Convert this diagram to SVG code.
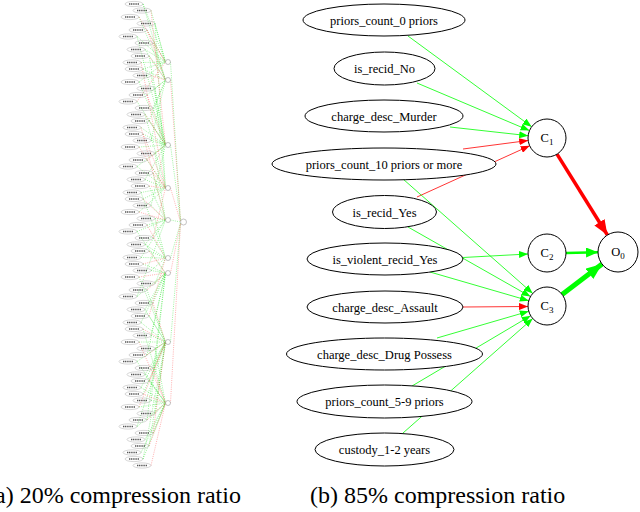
<svg xmlns="http://www.w3.org/2000/svg" width="640" height="512" viewBox="0 0 640 512">
<style>
.n{fill:none;stroke:#999;stroke-width:0.4}
.t{fill:none;stroke:#555;stroke-width:1.4;stroke-dasharray:1.2 0.6}
.h{fill:#fff;stroke:#888;stroke-width:0.5}
.lg{fill:none;stroke:#00e000;stroke-width:0.5;stroke-dasharray:1 1.2;opacity:0.75}
.lr{fill:none;stroke:#ff2020;stroke-width:0.5;stroke-dasharray:1 1.2;opacity:0.7}
.node ellipse,.node circle{fill:#fff;stroke:#000;stroke-width:1}
.eg{fill:none;stroke:#00ff00;stroke-width:0.8}
.er{fill:none;stroke:#ff0000;stroke-width:0.8}
text{font-family:Liberation Serif,Tinos,Times New Roman,DejaVu Serif,Noto Serif,serif}
</style>
<defs>
<marker id="ag" markerUnits="userSpaceOnUse" markerWidth="9" markerHeight="7" refX="9" refY="3.5" orient="auto" viewBox="0 0 9 7"><path d="M0,0 L9,3.5 L0,7 z" fill="#00ff00"/></marker>
<marker id="ar" markerUnits="userSpaceOnUse" markerWidth="9" markerHeight="7" refX="9" refY="3.5" orient="auto" viewBox="0 0 9 7"><path d="M0,0 L9,3.5 L0,7 z" fill="#ff0000"/></marker>
<marker id="agM" markerUnits="userSpaceOnUse" markerWidth="12" markerHeight="10" refX="12" refY="5" orient="auto" viewBox="0 0 12 10"><path d="M0,0 L12,5 L0,10 z" fill="#00ff00"/></marker>
<marker id="agL" markerUnits="userSpaceOnUse" markerWidth="16" markerHeight="13" refX="16" refY="6.5" orient="auto" viewBox="0 0 16 13"><path d="M0,0 L16,6.5 L0,13 z" fill="#00ff00"/></marker>
<marker id="arL" markerUnits="userSpaceOnUse" markerWidth="15" markerHeight="12" refX="15" refY="6" orient="auto" viewBox="0 0 15 12"><path d="M0,0 L15,6 L0,12 z" fill="#ff0000"/></marker>
</defs>
<rect width="640" height="512" fill="#fff"/>

<!-- (a) left panel: connectors -->
<g id="edges-a">
<path class="lg" d="M143 4L165.5 62M143 4L165.5 80M151 10.5L165.5 62M139 17L165.5 80M155 23.5L165.5 62M155 23.5L165.5 188M147 30L165.5 62M137 36.5L165.5 62M137 36.5L165.5 145M153 43L165.5 80M145 49.5L165.5 62M145 49.5L165.5 80M149 56L165.5 145M141 62.5L165.5 62M143 69L165.5 80M143 69L165.5 62M151 75.5L165.5 145M139 82L165.5 62M139 82L165.5 145M155 88.5L165.5 80M155 88.5L165.5 188M147 95L165.5 80M137 101.5L165.5 145M153 108L165.5 80M153 108L165.5 145M145 114.5L165.5 188M149 121L165.5 145M149 121L165.5 80M141 127.5L165.5 145M143 134L165.5 145M151 140.5L165.5 145M151 140.5L165.5 80M139 147L165.5 145M155 153.5L165.5 145M155 153.5L165.5 220M147 160L165.5 188M137 166.5L165.5 145M137 166.5L165.5 188M153 173L165.5 220M145 179.5L165.5 188M145 179.5L165.5 145M149 186L165.5 220M141 192.5L165.5 188M141 192.5L165.5 258M143 199L165.5 188M151 205.5L165.5 220M151 205.5L165.5 145M139 212L165.5 188M155 218.5L165.5 220M155 218.5L165.5 258M147 225L165.5 220M137 231.5L165.5 220M137 231.5L165.5 273M153 238L165.5 258M145 244.5L165.5 220M145 244.5L165.5 258M149 251L165.5 258M141 257.5L165.5 258M141 257.5L165.5 220M143 264L165.5 273M151 270.5L165.5 258M151 270.5L165.5 273M139 277L165.5 342M155 283.5L165.5 273M155 283.5L165.5 258M147 290L165.5 342M137 296.5L165.5 273M137 296.5L165.5 220M153 303L165.5 273M145 309.5L165.5 273M145 309.5L165.5 342M149 316L165.5 342M141 322.5L165.5 342M141 322.5L165.5 273M143 329L165.5 403M151 335.5L165.5 342M151 335.5L165.5 273M139 342L165.5 342M155 348.5L165.5 403M155 348.5L165.5 342M147 355L165.5 273M137 361.5L165.5 342M137 361.5L165.5 403M153 368L165.5 342M145 374.5L165.5 342M145 374.5L165.5 403M149 381L165.5 403M141 387.5L165.5 403M141 387.5L165.5 342M143 394L165.5 342M151 400.5L165.5 403M151 400.5L165.5 273M139 407L165.5 403M155 413.5L165.5 403M155 413.5L165.5 342M147 420L165.5 273M137 426.5L165.5 403M137 426.5L165.5 342M153 433L165.5 403M145 439.5L165.5 403M149 446L165.5 342M141 452.5L165.5 403M143 459L165.5 403M143 459L165.5 342M170.5 62L180.5 221M170.5 145L180.5 221M170.5 220L180.5 222M170.5 258L180.5 223M170.5 342L180.5 223"/>
<path class="lr" d="M151 10.5L165.5 145M139 17L165.5 62M147 30L165.5 80M153 43L165.5 62M149 56L165.5 80M141 62.5L165.5 188M151 75.5L165.5 80M147 95L165.5 145M137 101.5L165.5 62M145 114.5L165.5 145M141 127.5L165.5 220M143 134L165.5 188M139 147L165.5 188M147 160L165.5 145M153 173L165.5 188M149 186L165.5 188M143 199L165.5 220M139 212L165.5 220M147 225L165.5 258M153 238L165.5 188M149 251L165.5 273M143 264L165.5 258M139 277L165.5 273M147 290L165.5 273M153 303L165.5 342M149 316L165.5 258M143 329L165.5 342M139 342L165.5 403M147 355L165.5 342M153 368L165.5 403M149 381L165.5 342M143 394L165.5 403M139 407L165.5 342M147 420L165.5 403M153 433L165.5 342M149 446L165.5 403M151 465.5L165.5 403M170.5 80L180.5 221M170.5 188L180.5 222M170.5 273L180.5 223M170.5 403L180.5 224"/>
</g>

<!-- (a) left panel: input nodes -->
<g id="a0"><ellipse class="n" cx="134" cy="4" rx="9" ry="2.6"/><path class="t" d="M129 4h10"/></g>
<g id="a1"><ellipse class="n" cx="142" cy="10.5" rx="9" ry="2.6"/><path class="t" d="M137 10.5h10"/></g>
<g id="a2"><ellipse class="n" cx="130" cy="17" rx="9" ry="2.6"/><path class="t" d="M125 17h10"/></g>
<g id="a3"><ellipse class="n" cx="146" cy="23.5" rx="9" ry="2.6"/><path class="t" d="M141 23.5h10"/></g>
<g id="a4"><ellipse class="n" cx="138" cy="30" rx="9" ry="2.6"/><path class="t" d="M133 30h10"/></g>
<g id="a5"><ellipse class="n" cx="128" cy="36.5" rx="9" ry="2.6"/><path class="t" d="M123 36.5h10"/></g>
<g id="a6"><ellipse class="n" cx="144" cy="43" rx="9" ry="2.6"/><path class="t" d="M139 43h10"/></g>
<g id="a7"><ellipse class="n" cx="136" cy="49.5" rx="9" ry="2.6"/><path class="t" d="M131 49.5h10"/></g>
<g id="a8"><ellipse class="n" cx="140" cy="56" rx="9" ry="2.6"/><path class="t" d="M135 56h10"/></g>
<g id="a9"><ellipse class="n" cx="132" cy="62.5" rx="9" ry="2.6"/><path class="t" d="M127 62.5h10"/></g>
<g id="a10"><ellipse class="n" cx="134" cy="69" rx="9" ry="2.6"/><path class="t" d="M129 69h10"/></g>
<g id="a11"><ellipse class="n" cx="142" cy="75.5" rx="9" ry="2.6"/><path class="t" d="M137 75.5h10"/></g>
<g id="a12"><ellipse class="n" cx="130" cy="82" rx="9" ry="2.6"/><path class="t" d="M125 82h10"/></g>
<g id="a13"><ellipse class="n" cx="146" cy="88.5" rx="9" ry="2.6"/><path class="t" d="M141 88.5h10"/></g>
<g id="a14"><ellipse class="n" cx="138" cy="95" rx="9" ry="2.6"/><path class="t" d="M133 95h10"/></g>
<g id="a15"><ellipse class="n" cx="128" cy="101.5" rx="9" ry="2.6"/><path class="t" d="M123 101.5h10"/></g>
<g id="a16"><ellipse class="n" cx="144" cy="108" rx="9" ry="2.6"/><path class="t" d="M139 108h10"/></g>
<g id="a17"><ellipse class="n" cx="136" cy="114.5" rx="9" ry="2.6"/><path class="t" d="M131 114.5h10"/></g>
<g id="a18"><ellipse class="n" cx="140" cy="121" rx="9" ry="2.6"/><path class="t" d="M135 121h10"/></g>
<g id="a19"><ellipse class="n" cx="132" cy="127.5" rx="9" ry="2.6"/><path class="t" d="M127 127.5h10"/></g>
<g id="a20"><ellipse class="n" cx="134" cy="134" rx="9" ry="2.6"/><path class="t" d="M129 134h10"/></g>
<g id="a21"><ellipse class="n" cx="142" cy="140.5" rx="9" ry="2.6"/><path class="t" d="M137 140.5h10"/></g>
<g id="a22"><ellipse class="n" cx="130" cy="147" rx="9" ry="2.6"/><path class="t" d="M125 147h10"/></g>
<g id="a23"><ellipse class="n" cx="146" cy="153.5" rx="9" ry="2.6"/><path class="t" d="M141 153.5h10"/></g>
<g id="a24"><ellipse class="n" cx="138" cy="160" rx="9" ry="2.6"/><path class="t" d="M133 160h10"/></g>
<g id="a25"><ellipse class="n" cx="128" cy="166.5" rx="9" ry="2.6"/><path class="t" d="M123 166.5h10"/></g>
<g id="a26"><ellipse class="n" cx="144" cy="173" rx="9" ry="2.6"/><path class="t" d="M139 173h10"/></g>
<g id="a27"><ellipse class="n" cx="136" cy="179.5" rx="9" ry="2.6"/><path class="t" d="M131 179.5h10"/></g>
<g id="a28"><ellipse class="n" cx="140" cy="186" rx="9" ry="2.6"/><path class="t" d="M135 186h10"/></g>
<g id="a29"><ellipse class="n" cx="132" cy="192.5" rx="9" ry="2.6"/><path class="t" d="M127 192.5h10"/></g>
<g id="a30"><ellipse class="n" cx="134" cy="199" rx="9" ry="2.6"/><path class="t" d="M129 199h10"/></g>
<g id="a31"><ellipse class="n" cx="142" cy="205.5" rx="9" ry="2.6"/><path class="t" d="M137 205.5h10"/></g>
<g id="a32"><ellipse class="n" cx="130" cy="212" rx="9" ry="2.6"/><path class="t" d="M125 212h10"/></g>
<g id="a33"><ellipse class="n" cx="146" cy="218.5" rx="9" ry="2.6"/><path class="t" d="M141 218.5h10"/></g>
<g id="a34"><ellipse class="n" cx="138" cy="225" rx="9" ry="2.6"/><path class="t" d="M133 225h10"/></g>
<g id="a35"><ellipse class="n" cx="128" cy="231.5" rx="9" ry="2.6"/><path class="t" d="M123 231.5h10"/></g>
<g id="a36"><ellipse class="n" cx="144" cy="238" rx="9" ry="2.6"/><path class="t" d="M139 238h10"/></g>
<g id="a37"><ellipse class="n" cx="136" cy="244.5" rx="9" ry="2.6"/><path class="t" d="M131 244.5h10"/></g>
<g id="a38"><ellipse class="n" cx="140" cy="251" rx="9" ry="2.6"/><path class="t" d="M135 251h10"/></g>
<g id="a39"><ellipse class="n" cx="132" cy="257.5" rx="9" ry="2.6"/><path class="t" d="M127 257.5h10"/></g>
<g id="a40"><ellipse class="n" cx="134" cy="264" rx="9" ry="2.6"/><path class="t" d="M129 264h10"/></g>
<g id="a41"><ellipse class="n" cx="142" cy="270.5" rx="9" ry="2.6"/><path class="t" d="M137 270.5h10"/></g>
<g id="a42"><ellipse class="n" cx="130" cy="277" rx="9" ry="2.6"/><path class="t" d="M125 277h10"/></g>
<g id="a43"><ellipse class="n" cx="146" cy="283.5" rx="9" ry="2.6"/><path class="t" d="M141 283.5h10"/></g>
<g id="a44"><ellipse class="n" cx="138" cy="290" rx="9" ry="2.6"/><path class="t" d="M133 290h10"/></g>
<g id="a45"><ellipse class="n" cx="128" cy="296.5" rx="9" ry="2.6"/><path class="t" d="M123 296.5h10"/></g>
<g id="a46"><ellipse class="n" cx="144" cy="303" rx="9" ry="2.6"/><path class="t" d="M139 303h10"/></g>
<g id="a47"><ellipse class="n" cx="136" cy="309.5" rx="9" ry="2.6"/><path class="t" d="M131 309.5h10"/></g>
<g id="a48"><ellipse class="n" cx="140" cy="316" rx="9" ry="2.6"/><path class="t" d="M135 316h10"/></g>
<g id="a49"><ellipse class="n" cx="132" cy="322.5" rx="9" ry="2.6"/><path class="t" d="M127 322.5h10"/></g>
<g id="a50"><ellipse class="n" cx="134" cy="329" rx="9" ry="2.6"/><path class="t" d="M129 329h10"/></g>
<g id="a51"><ellipse class="n" cx="142" cy="335.5" rx="9" ry="2.6"/><path class="t" d="M137 335.5h10"/></g>
<g id="a52"><ellipse class="n" cx="130" cy="342" rx="9" ry="2.6"/><path class="t" d="M125 342h10"/></g>
<g id="a53"><ellipse class="n" cx="146" cy="348.5" rx="9" ry="2.6"/><path class="t" d="M141 348.5h10"/></g>
<g id="a54"><ellipse class="n" cx="138" cy="355" rx="9" ry="2.6"/><path class="t" d="M133 355h10"/></g>
<g id="a55"><ellipse class="n" cx="128" cy="361.5" rx="9" ry="2.6"/><path class="t" d="M123 361.5h10"/></g>
<g id="a56"><ellipse class="n" cx="144" cy="368" rx="9" ry="2.6"/><path class="t" d="M139 368h10"/></g>
<g id="a57"><ellipse class="n" cx="136" cy="374.5" rx="9" ry="2.6"/><path class="t" d="M131 374.5h10"/></g>
<g id="a58"><ellipse class="n" cx="140" cy="381" rx="9" ry="2.6"/><path class="t" d="M135 381h10"/></g>
<g id="a59"><ellipse class="n" cx="132" cy="387.5" rx="9" ry="2.6"/><path class="t" d="M127 387.5h10"/></g>
<g id="a60"><ellipse class="n" cx="134" cy="394" rx="9" ry="2.6"/><path class="t" d="M129 394h10"/></g>
<g id="a61"><ellipse class="n" cx="142" cy="400.5" rx="9" ry="2.6"/><path class="t" d="M137 400.5h10"/></g>
<g id="a62"><ellipse class="n" cx="130" cy="407" rx="9" ry="2.6"/><path class="t" d="M125 407h10"/></g>
<g id="a63"><ellipse class="n" cx="146" cy="413.5" rx="9" ry="2.6"/><path class="t" d="M141 413.5h10"/></g>
<g id="a64"><ellipse class="n" cx="138" cy="420" rx="9" ry="2.6"/><path class="t" d="M133 420h10"/></g>
<g id="a65"><ellipse class="n" cx="128" cy="426.5" rx="9" ry="2.6"/><path class="t" d="M123 426.5h10"/></g>
<g id="a66"><ellipse class="n" cx="144" cy="433" rx="9" ry="2.6"/><path class="t" d="M139 433h10"/></g>
<g id="a67"><ellipse class="n" cx="136" cy="439.5" rx="9" ry="2.6"/><path class="t" d="M131 439.5h10"/></g>
<g id="a68"><ellipse class="n" cx="140" cy="446" rx="9" ry="2.6"/><path class="t" d="M135 446h10"/></g>
<g id="a69"><ellipse class="n" cx="132" cy="452.5" rx="9" ry="2.6"/><path class="t" d="M127 452.5h10"/></g>
<g id="a70"><ellipse class="n" cx="134" cy="459" rx="9" ry="2.6"/><path class="t" d="M129 459h10"/></g>
<g id="a71"><ellipse class="n" cx="142" cy="465.5" rx="9" ry="2.6"/><path class="t" d="M137 465.5h10"/></g>

<!-- (a) hidden and output nodes -->
<g id="ha"><circle class="h" cx="168" cy="62" r="2.5"/></g>
<g id="hb"><circle class="h" cx="168" cy="80" r="2.5"/></g>
<g id="hc"><circle class="h" cx="168" cy="145" r="2.5"/></g>
<g id="hd"><circle class="h" cx="168" cy="188" r="2.5"/></g>
<g id="he"><circle class="h" cx="168" cy="220" r="2.5"/></g>
<g id="hf"><circle class="h" cx="168" cy="258" r="2.5"/></g>
<g id="hg"><circle class="h" cx="168" cy="273" r="2.5"/></g>
<g id="hh"><circle class="h" cx="168" cy="342" r="2.5"/></g>
<g id="hi"><circle class="h" cx="168" cy="403" r="2.5"/></g>
<g id="ao"><circle class="h" cx="183.5" cy="222" r="3"/></g>

<!-- (b) right panel: connectors -->
<g id="edges-b">
<path class="eg" d="M408 36L531.6 126.7" marker-end="url(#ag)"/>
<path class="eg" d="M417 83L529.5 130.6" marker-end="url(#ag)"/>
<path class="eg" d="M450 127L528.2 135.7" marker-end="url(#ag)"/>
<path class="er" d="M463 149L528.2 140.5" marker-end="url(#ar)"/>
<path class="er" d="M417 197L529.7 145.8" marker-end="url(#ar)"/>
<path class="eg" d="M403 179L532.7 293.4" marker-end="url(#ag)"/>
<path class="eg" d="M408 227L530.5 296.6" marker-end="url(#ag)"/>
<path class="eg" d="M430 272L528.8 300.7" marker-end="url(#ag)"/>
<path class="er" d="M463 307L528 306.5" marker-end="url(#ar)"/>
<path class="eg" d="M437 338L528.8 311.3" marker-end="url(#ag)"/>
<path class="eg" d="M412 386L530.7 315.7" marker-end="url(#ag)"/>
<path class="eg" d="M403 433L532.7 318.6" marker-end="url(#ag)"/>
<path class="eg" d="M463 257.5L528 254" marker-end="url(#ag)"/>
<path d="M566 253L598 252.3" fill="none" stroke="#00ff00" stroke-width="2.5" marker-end="url(#agM)"/>
<path d="M557 154.1L607.4 235" fill="none" stroke="#ff0000" stroke-width="3.5" marker-end="url(#arL)"/>
<path d="M562.1 294.5L602.1 264.1" fill="none" stroke="#00ff00" stroke-width="5" marker-end="url(#agL)"/>
</g>

<!-- (b) right panel: nodes -->
<g font-size="12.5" text-anchor="middle" fill="#000">
<g id="b_priors0" class="node"><ellipse cx="384" cy="20" rx="81" ry="16"/><text x="384" y="24.5">priors_count_0 priors</text></g>
<g id="b_recidNo" class="node"><ellipse cx="384.5" cy="68.5" rx="50.5" ry="16.5"/><text x="384.5" y="73">is_recid_No</text></g>
<g id="b_murder" class="node"><ellipse cx="384" cy="116" rx="79" ry="16"/><text x="384" y="120.5">charge_desc_Murder</text></g>
<g id="b_priors10" class="node"><ellipse cx="384" cy="164" rx="112" ry="16"/><text x="384" y="168.5">priors_count_10 priors or more</text></g>
<g id="b_recidYes" class="node"><ellipse cx="384.5" cy="212" rx="52" ry="16.5"/><text x="384.5" y="216.5">is_recid_Yes</text></g>
<g id="b_violent" class="node"><ellipse cx="385" cy="259" rx="78" ry="16"/><text x="385" y="263.5">is_violent_recid_Yes</text></g>
<g id="b_assault" class="node"><ellipse cx="385" cy="307" rx="78" ry="16"/><text x="385" y="311.5">charge_desc_Assault</text></g>
<g id="b_drug" class="node"><ellipse cx="384.5" cy="354" rx="98" ry="16"/><text x="384.5" y="358.5">charge_desc_Drug Possess</text></g>
<g id="b_priors59" class="node"><ellipse cx="384.5" cy="401.5" rx="87.5" ry="16.5"/><text x="384.5" y="406">priors_count_5-9 priors</text></g>
<g id="b_custody" class="node"><ellipse cx="384.5" cy="449.5" rx="69.5" ry="16.5"/><text x="384.5" y="454">custody_1-2 years</text></g>
<g id="b_C1" class="node"><circle cx="547" cy="138" r="19"/><text x="547" y="141.5">C<tspan font-size="9" dy="3">1</tspan></text></g>
<g id="b_C2" class="node"><circle cx="547" cy="253" r="19"/><text x="547" y="256.5">C<tspan font-size="9" dy="3">2</tspan></text></g>
<g id="b_C3" class="node"><circle cx="547" cy="306" r="19"/><text x="547" y="309.5">C<tspan font-size="9" dy="3">3</tspan></text></g>
<g id="b_O0" class="node"><circle cx="618" cy="252" r="20"/><text x="618" y="255.5">O<tspan font-size="9" dy="3">0</tspan></text></g>
</g>

<!-- captions -->
<g font-size="24" fill="#000">
<text x="-13" y="503">(a) 20% compression ratio</text>
<text x="310" y="503">(b) 85% compression ratio</text>
</g>
</svg>
